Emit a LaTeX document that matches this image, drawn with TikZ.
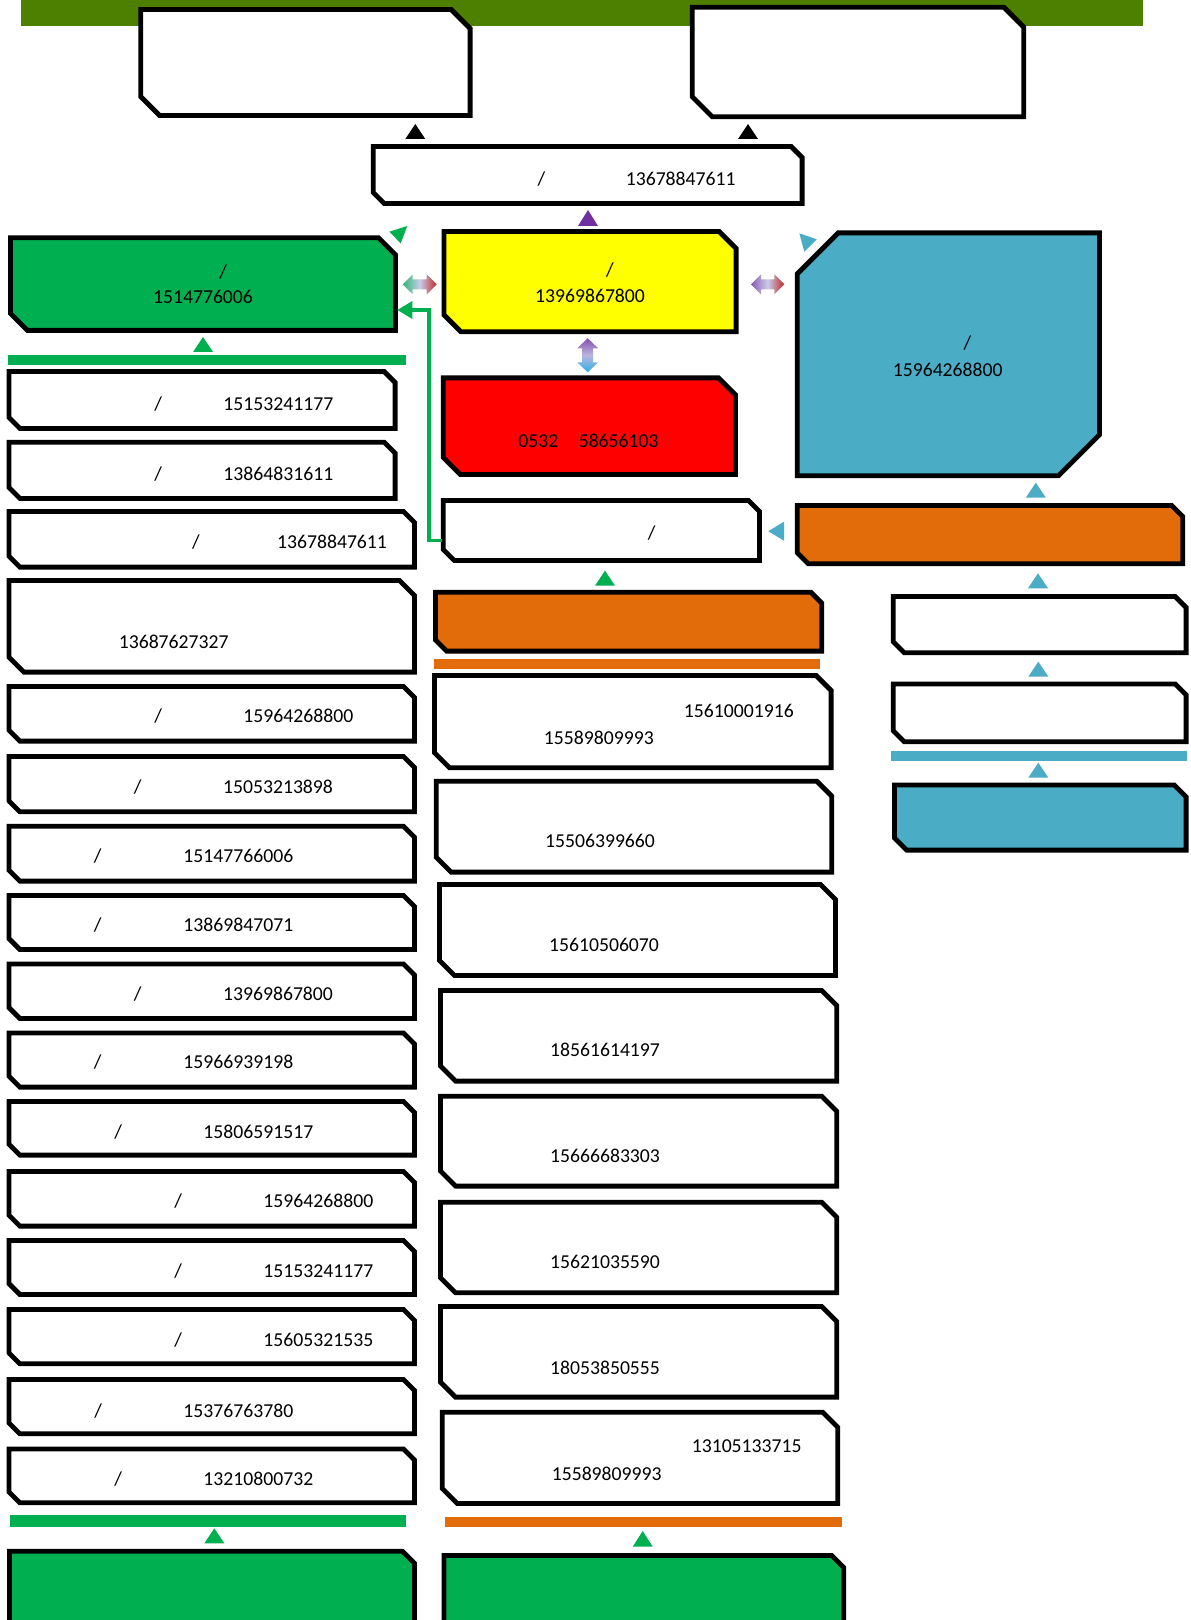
\documentclass[tikz,border=0pt]{standalone}
\usepackage{fontspec}
\setmainfont{Carlito}
\usetikzlibrary{arrows.meta}
\definecolor{cOlive}{RGB}{78,128,0}
\definecolor{cGreen}{RGB}{0,176,80}
\definecolor{cYellow}{RGB}{255,255,0}
\definecolor{cRed}{RGB}{255,0,0}
\definecolor{cBlue}{RGB}{75,172,198}
\definecolor{cOrange}{RGB}{227,108,10}
\definecolor{cPurple}{RGB}{112,48,160}
\definecolor{cDkRed}{RGB}{192,40,40}
\definecolor{cLight}{RGB}{200,205,232}
\definecolor{cSky}{RGB}{40,175,235}
\definecolor{cGreenL}{RGB}{50,180,120}
\tikzset{
  boxline/.style={draw=black, line width=2.4pt},
  lbl/.style={anchor=base, inner sep=0pt, font=\fontsize{9.85pt}{11pt}\selectfont},
  gline/.style={draw=cGreen, line width=1.65pt},
}
% chamfered box: name, x1, y1, x2, y2 (outer edges), fill, chamfer
\newcommand\cbox[7]{%
  \draw[boxline,fill=#6] (#2+2.2,#3+2.2) -- (#4-2.2-#7,#3+2.2) -- (#4-2.2,#3+2.2+#7) -- (#4-2.2,#5-2.2)
     -- (#2+2.2+#7,#5-2.2) -- (#2+2.2,#5-2.2-#7) -- cycle;
  \coordinate (#1) at ({(#2+#4)/2},{(#3+#5)/2});
}
% text: name, x, y (centre of digits), text
\newcommand\tx[4]{\node[lbl] (#1) at (#2,#3+6.2) {#4};}
% up triangle: x, ytop, ybottom, colour
\newcommand\tup[4]{\fill[#4] (#1-10,#3) -- (#1+10,#3) -- (#1,#2) -- cycle;}
\begin{document}
\begin{tikzpicture}[x=0.5pt,y=-0.5pt]
\useasboundingbox (0,0) rectangle (1190,1620);
\fill[white] (0,0) rectangle (1190,1620);

% top bar
\fill[cOlive] (21,0) rectangle (1143,26);
\cbox{A}{138.5}{7.3}{472.3}{117.8}{white}{19}
\cbox{B}{690}{5}{1026}{119}{white}{20}
\tup{415.3}{124}{139}{black}
\tup{748}{124}{139}{black}

% box C
\cbox{C}{371}{144.3}{804.3}{205.7}{white}{11}
\tx{c1}{541.3}{179}{/}
\tx{c2}{680.7}{179}{13678847611}
\tup{588}{210}{226}{cPurple}

% green D
\cbox{D}{8.3}{235.5}{397.7}{332.6}{cGreen}{17}
\tx{d1}{223.1}{272}{/}
\tx{d2}{203}{297.6}{1514776006}
\fill[cGreen] (407.3,226) -- (389.3,231.7) -- (400.7,243.3) -- cycle;

% yellow E
\cbox{E}{441.7}{229.3}{738.3}{334}{cYellow}{17}
\tx{e1}{610}{270.7}{/}
\tx{e2}{590}{296.7}{13969867800}

% double arrow D-E
\shade[left color=cGreenL, right color=cDkRed, middle color=cLight]
  (402.7,284.3) -- (412.7,274.3) -- (412.7,279.3) -- (426.7,279.3) -- (426.7,274.3) -- (436.7,284.3)
  -- (426.7,294.3) -- (426.7,289.3) -- (412.7,289.3) -- (412.7,294.3) -- cycle;
% double arrow E-F
\shade[left color=cPurple!80, right color=cDkRed, middle color=cLight]
  (751,284.3) -- (761,274.3) -- (761,279.3) -- (774.3,279.3) -- (774.3,274.3) -- (784.3,284.3)
  -- (774.3,294.3) -- (774.3,289.3) -- (761,289.3) -- (761,294.3) -- cycle;
% vertical double arrow E-H
\shade[top color=cPurple!85, bottom color=cSky, middle color=cLight!85!cPurple]
  (587.7,338.3) -- (598.2,348.3) -- (593.2,348.3) -- (593.2,362.3) -- (598.2,362.3) -- (587.7,372.3)
  -- (577.2,362.3) -- (582.2,362.3) -- (582.2,348.3) -- (577.2,348.3) -- cycle;

% blue F
\draw[boxline,fill=cBlue] (797.2,273.9) -- (838.2,232.9) -- (1099.5,232.9) -- (1099.5,434.8) -- (1058.5,475.8) -- (797.2,475.8) -- cycle;
\coordinate (F) at (948,354);
\tx{f1}{967.3}{343.3}{/}
\tx{f2}{947.7}{370}{15964268800}
\fill[cBlue] (799.3,233.3) -- (816.7,239.3) -- (804.3,251.7) -- cycle;

% red H
\cbox{H}{441}{375.7}{737.7}{476.7}{cRed}{17}
\tx{h1}{538.3}{441.7}{0532}
\tx{h2}{618.7}{441.7}{58656103}

% white G
\cbox{G}{441}{498.3}{761.7}{562.7}{white}{11}
\tx{g1}{651.7}{533.3}{/}
\fill[cBlue] (768.3,531.2) -- (784,521.7) -- (784,540.7) -- cycle;
\tup{605}{570.7}{585.7}{cGreen}

% green connector G -> D
\coordinate (gs) at (442.3,540.7);
\coordinate (gk) at (429,0);
\coordinate (dr) at (397.3,310);
\draw[gline,-{Triangle[length=7.5pt,width=8.5pt]}] (gs) -- (gs -| gk) -- (dr -| gk) -- (dr);

% orange I and right column
\tup{1035.8}{482.7}{497.7}{cBlue}
\cbox{I}{795}{503.3}{1185}{566}{cOrange}{11}
\tup{1038}{573.3}{588.3}{cBlue}
\cbox{K}{891}{594.3}{1188.3}{655}{white}{11}
\tup{1038.3}{661.7}{676.7}{cBlue}
\cbox{L}{891}{681.7}{1188.3}{744}{white}{11}
\fill[cBlue] (891,751) rectangle (1186.7,760.7);
\tup{1038.3}{762.7}{777.7}{cBlue}
\cbox{M}{892.3}{782.7}{1188.3}{852.3}{cBlue}{12}

% orange J and middle column
\cbox{J}{433.3}{590}{824}{653.3}{cOrange}{11}
\fill[cOrange] (434,659) rectangle (820,669);
\cbox{M1}{432.3}{673.3}{833.3}{770}{white}{15}
\tx{m1a}{738.8}{711.7}{15610001916}
\tx{m1b}{598.8}{738.3}{15589809993}
\cbox{M2}{434}{779}{834}{874.3}{white}{15}
\tx{m2}{600}{841.7}{15506399660}
\cbox{M3}{437.3}{882.3}{837.7}{977.7}{white}{15}
\tx{m3}{604}{945.7}{15610506070}
\cbox{M4}{438.3}{988.3}{839}{1083.3}{white}{15}
\tx{m4}{605}{1050}{18561614197}
\cbox{M5}{438.3}{1094}{839}{1188.3}{white}{15}
\tx{m5}{605}{1156.7}{15666683303}
\cbox{M6}{438.3}{1200}{839}{1295}{white}{15}
\tx{m6}{605}{1262.7}{15621035590}
\cbox{M7}{438.3}{1304.3}{839}{1399.3}{white}{15}
\tx{m7}{605}{1368.3}{18053850555}
\cbox{M8}{440}{1410}{840}{1505.7}{white}{15}
\tx{m8a}{746.7}{1446.7}{13105133715}
\tx{m8b}{606.7}{1474}{15589809993}
\fill[cOrange] (445,1516.7) rectangle (841.7,1526.7);
\tup{642.7}{1531}{1546.7}{cGreen}
\cbox{GM}{441.7}{1553.3}{846}{1650}{cGreen}{12}

% left column
\fill[cGreen] (8.3,355) rectangle (405.7,365);
\tup{203}{337}{352}{cGreen}
\cbox{L1}{6.7}{369.3}{397.3}{430.7}{white}{11}
\tx{l1a}{158.3}{404}{/}\tx{l1b}{278.3}{404}{15153241177}
\cbox{L2}{6.7}{440}{397.3}{500.7}{white}{11}
\tx{l2a}{158.3}{474.3}{/}\tx{l2b}{278.3}{474.3}{13864831611}
\cbox{L3}{6.7}{509.3}{416.7}{569.3}{white}{11}
\tx{l3a}{196}{542.7}{/}\tx{l3b}{332}{542.7}{13678847611}
\cbox{L4}{6.7}{578.3}{416.7}{674.3}{white}{15}
\tx{l4b}{173.7}{642.7}{13687627327}
\cbox{L5}{6.7}{684.3}{416.7}{743.3}{white}{11}
\tx{l5a}{158.3}{716.7}{/}\tx{l5b}{298.3}{716.7}{15964268800}
\cbox{L6}{6.7}{754.3}{416.7}{814}{white}{11}
\tx{l6a}{137.7}{787.7}{/}\tx{l6b}{278}{787.7}{15053213898}
\cbox{L7}{6.7}{824}{416.7}{883.3}{white}{11}
\tx{l7a}{97.7}{856.7}{/}\tx{l7b}{238.3}{856.7}{15147766006}
\cbox{L8}{6.7}{893.3}{416.7}{951.7}{white}{11}
\tx{l8a}{97.7}{925.7}{/}\tx{l8b}{238.3}{925.7}{13869847071}
\cbox{L9}{6.7}{961.7}{416.7}{1020.7}{white}{11}
\tx{l9a}{137.7}{994}{/}\tx{l9b}{278}{994}{13969867800}
\cbox{L10}{6.7}{1030.7}{416.7}{1089.3}{white}{11}
\tx{l10a}{97.7}{1062.7}{/}\tx{l10b}{238.3}{1062.7}{15966939198}
\cbox{L11}{6.7}{1099.3}{416.7}{1157.3}{white}{11}
\tx{l11a}{118.3}{1132.3}{/}\tx{l11b}{258.3}{1132.3}{15806591517}
\cbox{L12}{6.7}{1169.3}{416.7}{1228.3}{white}{11}
\tx{l12a}{178.3}{1201.7}{/}\tx{l12b}{318.3}{1201.7}{15964268800}
\cbox{L13}{6.7}{1238.3}{416.7}{1296.7}{white}{11}
\tx{l13a}{178.3}{1271}{/}\tx{l13b}{318.3}{1271}{15153241177}
\cbox{L14}{6.7}{1307.3}{416.7}{1366}{white}{11}
\tx{l14a}{178.3}{1340}{/}\tx{l14b}{318.3}{1340}{15605321535}
\cbox{L15}{6.7}{1377.3}{416.7}{1436}{white}{11}
\tx{l15a}{98.3}{1411}{/}\tx{l15b}{238.3}{1411}{15376763780}
\cbox{L16}{6.7}{1446.7}{416.7}{1505}{white}{11}
\tx{l16a}{118.3}{1479}{/}\tx{l16b}{258.3}{1479}{13210800732}
\fill[cGreen] (10,1515) rectangle (405.7,1526.7);
\tup{214.3}{1528.3}{1543.3}{cGreen}
\cbox{GL}{7.3}{1549}{416.7}{1650}{cGreen}{12}
\end{tikzpicture}
\end{document}
